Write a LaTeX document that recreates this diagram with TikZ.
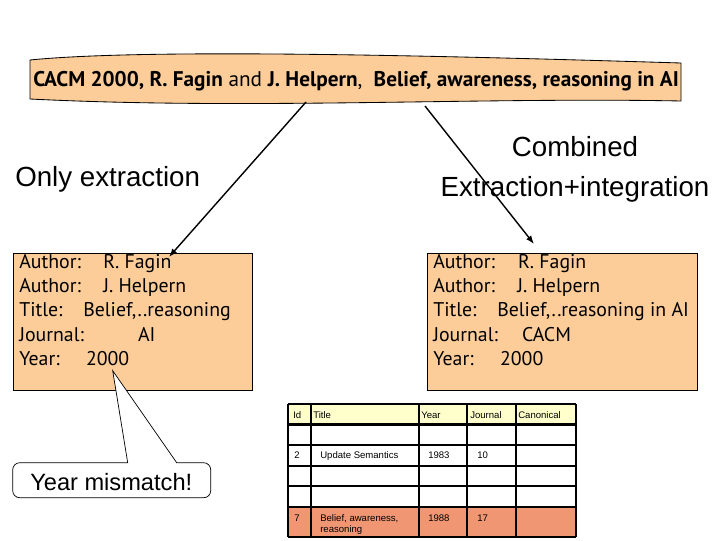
\documentclass[tikz,border=0pt]{standalone}
\usepackage{fontspec}
\setmainfont{Liberation Sans}
\newfontfamily\tahoma{PT Sans}
\usetikzlibrary{arrows.meta}

\definecolor{peach}{RGB}{252,204,153}
\definecolor{paleyellow}{RGB}{255,255,204}
\definecolor{rowsalmon}{RGB}{240,150,115}

% label, then value at a fixed tab
\newcommand{\fld}[3]{\makebox[#2][l]{#1}#3}

\begin{document}
\begin{tikzpicture}[x=0.025cm, y=-0.025cm,
  recbox/.style={draw, fill=peach, line width=0.6pt},
  rectext/.style={anchor=north west, inner sep=0pt, align=left,
    font=\tahoma\fontsize{14.1}{17.1}\selectfont},
  bigtext/.style={anchor=base west, inner sep=0pt, font=\fontsize{19.7}{28.4}\selectfont},
  cell/.style={anchor=base west, inner sep=0pt, font=\fontsize{6.8}{7.8}\selectfont},
  grid/.style={line width=1.5pt},
  pointer/.style={-{Latex[length=6pt, width=4.5pt]}, line width=1pt}]
 \useasboundingbox (0,0) rectangle (720,540);

 %ends of the arrows
 \coordinate (lstart) at (306,102);
 \coordinate (ltip) at (169,257);
 \coordinate (rstart) at (425,106);
 \coordinate (rtip) at (534,244);

 %citation banner
 \draw [fill=peach, line width=0.6pt] (30,60) .. controls (150,48) and (450,56) .. (681,63)
   -- (681,101) .. controls (480,97) and (250,110) .. (30,99) -- cycle;
 \node [anchor=base west, inner sep=0pt, font=\tahoma\fontsize{15.1}{17}\selectfont] (cite) at (33,86.7)
   {\textbf{CACM 2000, R. Fagin} and \textbf{J. Helpern}, \ \textbf{Belief, awareness, reasoning in AI}};

 %headings
 \node [bigtext] (only) at (15,186) {Only extraction};
 \node [anchor=base, inner sep=0pt, align=center, font=\fontsize{19.7}{28.4}\selectfont] (combined) at (575,196)
   {Combined\\Extraction+integration};

 %extracted records
 \node [recbox, anchor=north west, minimum width=5.98cm, minimum height=3.43cm] (left) at (12.7,252.7) {};
 \node [recbox, anchor=north west, minimum width=6.75cm, minimum height=3.43cm] (right) at (426.7,252.7) {};
 \node [rectext] (lefttext) at (19,254.5) {\fld{Author:}{2.1cm}{R. Fagin}\\
   \fld{Author:}{2.1cm}{J. Helpern}\\
   \fld{Title:}{1.6cm}{Belief,..reasoning}\\
   \fld{Journal:}{2.97cm}{AI}\\
   \fld{Year:}{1.67cm}{2000}};
 \node [rectext] (righttext) at (433,254.5) {\fld{Author:}{2.12cm}{R. Fagin}\\
   \fld{Author:}{2.1cm}{J. Helpern}\\
   \fld{Title:}{1.6cm}{Belief,..reasoning in AI}\\
   \fld{Journal:}{2.22cm}{CACM}\\
   \fld{Year:}{1.67cm}{2000}};

 %arrows from the banner
 \draw [pointer] (lstart) -- (ltip);
 \draw [pointer] (rstart) -- (rtip);

 %callout
 \draw [fill=white, line width=0.5pt] (12.7,480) [rounded corners=5pt] |- (100,462.7) [sharp corners]
   -- (127.7,462.7) -- (112.7,370.7) -- (176.7,462.7) -- (190,462.7) [rounded corners=5pt]
   -| (210.7,497.7) -| (12.7,480) [sharp corners] -- cycle;
 \node [anchor=base west, inner sep=0pt, font=\fontsize{16.8}{20}\selectfont] (mismatch) at (30,490) {Year mismatch!};

 %table
 \fill [paleyellow] (288,404) rectangle (576,424.5);
 \fill [rowsalmon] (288,507) rectangle (576,537);
 \draw [grid] (288,404) -- (576,404);
 \draw [grid] (288,424.5) -- (576,424.5);
 \draw [grid] (288,445) -- (576,445);
 \draw [grid] (288,466) -- (576,466);
 \draw [grid] (288,486) -- (576,486);
 \draw [grid] (288,507) -- (576,507);
 \draw [grid] (288,537) -- (576,537);
 \draw [grid] (288,404) -- (288,537);
 \draw [grid] (311,404) -- (311,537);
 \draw [grid] (419,404) -- (419,537);
 \draw [grid] (467,404) -- (467,537);
 \draw [grid] (516,404) -- (516,537);
 \draw [grid] (576,404) -- (576,537);

 %table cells
 \node [cell] (hid) at (293,418) {Id};
 \node [cell] (htitle) at (313,418) {Title};
 \node [cell] (hyear) at (421,418) {Year};
 \node [cell] (hjournal) at (470,418) {Journal};
 \node [cell] (hcanon) at (518,418) {Canonical};
 \node [cell] (id2) at (294,458.5) {2};
 \node [cell] (title2) at (320,458.5) {Update Semantics};
 \node [cell] (year2) at (428,458.5) {1983};
 \node [cell] (journal2) at (477,458.5) {10};
 \node [cell] (id7) at (294,521) {7};
 \node [cell, align=left] (title7) at (320,532) {Belief, awareness,\\reasoning};
 \node [cell] (year7) at (428,521) {1988};
 \node [cell] (journal7) at (477,521) {17};
\end{tikzpicture}
\end{document}
